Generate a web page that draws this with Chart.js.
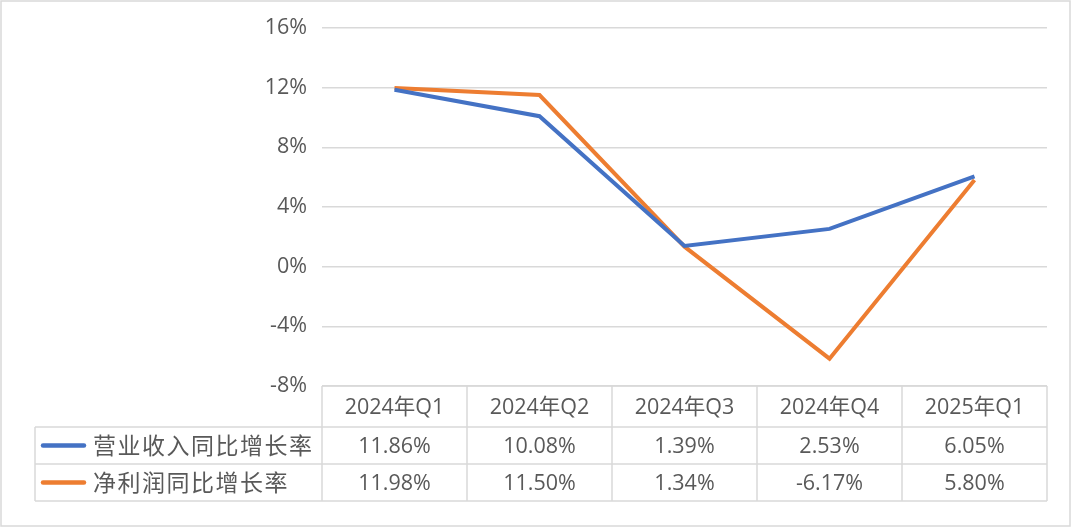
<!DOCTYPE html>
<html>
<head>
<meta charset="utf-8">
<script src="https://cdn.jsdelivr.net/npm/chart.js@4/dist/chart.umd.min.js"></script>
<style>
  body { margin: 0; background: #fff; }
  #wrap { width: 1071px; height: 527px; position: relative; }
</style>
</head>
<body>
<div id="wrap"><canvas id="myChart"></canvas></div>
<script>
const categories = ['2024年Q1', '2024年Q2', '2024年Q3', '2024年Q4', '2025年Q1'];
const revenueGrowth = [11.86, 10.08, 1.39, 2.53, 6.05];
const profitGrowth = [11.98, 11.50, 1.34, -6.17, 5.80];
const seriesNames = ['营业收入同比增长率', '净利润同比增长率'];
const yTicks = [-8, -4, 0, 4, 8, 12, 16];

const textColor = '#595959';
const gridColor = '#D9D9D9';
const latin = '"Open Sans", "Noto Sans CJK SC", sans-serif';
const cjk = '"Noto Sans CJK SC", sans-serif';

// draws the data table under the plot, plus the outer frame
const tablePlugin = {
  id: 'dataTable',
  afterDraw(chart) {
    const ctx = chart.ctx;
    const area = chart.chartArea;
    const x = chart.scales.x;
    const colW = (area.right - area.left) / categories.length;
    const top = area.bottom;
    const rows = [top, top + 41, top + 78, top + 115];
    const legendLeft = 35;

    ctx.save();
    ctx.strokeStyle = gridColor;
    ctx.lineWidth = 1.5;
    ctx.beginPath();
    // horizontal lines
    ctx.moveTo(area.left, rows[0]); ctx.lineTo(area.right, rows[0]);
    for (let r = 1; r < rows.length; r++) {
      ctx.moveTo(legendLeft, rows[r]); ctx.lineTo(area.right, rows[r]);
    }
    // vertical lines
    for (let c = 0; c <= categories.length; c++) {
      const cx = area.left + c * colW;
      ctx.moveTo(cx, rows[0]); ctx.lineTo(cx, rows[3]);
    }
    ctx.moveTo(legendLeft, rows[1]); ctx.lineTo(legendLeft, rows[3]);
    ctx.stroke();

    ctx.fillStyle = textColor;
    ctx.textAlign = 'center';
    ctx.textBaseline = 'middle';
    ctx.font = '21.5px ' + latin;
    categories.forEach((c, i) => {
      ctx.fillText(c, x.getPixelForValue(i), (rows[0] + rows[1]) / 2 + 1);
    });
    const series = [revenueGrowth, profitGrowth];
    series.forEach((vals, s) => {
      const yMid = (rows[s + 1] + rows[s + 2]) / 2 + 1;
      vals.forEach((v, i) => {
        ctx.fillText(v.toFixed(2) + '%', x.getPixelForValue(i), yMid);
      });
      // legend key
      const ds = chart.data.datasets[s];
      ctx.strokeStyle = ds.borderColor;
      ctx.lineWidth = 4.5;
      ctx.lineCap = 'round';
      ctx.beginPath();
      ctx.moveTo(43, yMid - 1); ctx.lineTo(84, yMid - 1);
      ctx.stroke();
      ctx.textAlign = 'left';
      ctx.font = '23px ' + cjk;
      ctx.letterSpacing = '1.5px';
      ctx.fillText(seriesNames[s], 93, yMid - 1);
      ctx.letterSpacing = '0px';
      ctx.textAlign = 'center';
      ctx.font = '21.5px ' + latin;
    });

    // outer frame
    ctx.strokeStyle = gridColor;
    ctx.lineWidth = 1.5;
    ctx.strokeRect(1, 1, chart.width - 2, chart.height - 2);
    ctx.restore();
  }
};

new Chart(document.getElementById('myChart'), {
  type: 'line',
  data: {
    labels: categories,
    datasets: [
      {
        label: seriesNames[0],
        data: revenueGrowth,
        borderColor: '#4472C4',
        borderWidth: 4,
        pointRadius: 0,
        tension: 0
      },
      {
        label: seriesNames[1],
        data: profitGrowth,
        borderColor: '#ED7D31',
        borderWidth: 4,
        pointRadius: 0,
        tension: 0
      }
    ]
  },
  options: {
    responsive: true,
    maintainAspectRatio: false,
    animation: false,
    layout: { padding: { top: 26, bottom: 141, right: 24, left: 0 } },
    plugins: {
      legend: { display: false },
      tooltip: { enabled: false }
    },
    scales: {
      x: {
        display: false,
        offset: true
      },
      y: {
        min: -8,
        max: 16,
        afterFit(scale) { scale.width = 322; },
        afterBuildTicks(scale) { scale.ticks = yTicks.map(v => ({ value: v })); },
        border: { display: false },
        grid: { color: gridColor, lineWidth: 1.5, drawTicks: false },
        ticks: {
          padding: 15,
          color: textColor,
          font: { family: latin, size: 21.5 },
          callback: v => v + '%'
        }
      }
    }
  },
  plugins: [tablePlugin]
});
</script>
</body>
</html>
